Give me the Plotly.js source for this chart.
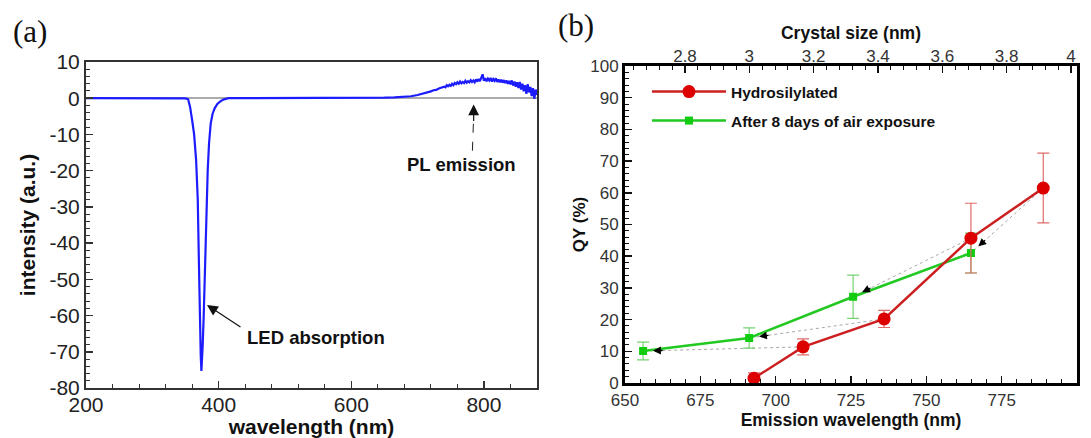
<!DOCTYPE html>
<html><head><meta charset="utf-8">
<script src="https://cdn.plot.ly/plotly-3.0.1.min.js"></script>
<style>html,body{margin:0;padding:0;background:#fff;} #chart{width:1091px;height:438px;}</style>
</head><body><div id="chart"></div>
<script>
// ---------- Panel (a) data: spectrum ----------
const wavelength = [
  200, 230, 260, 290, 320, 340, 350, 354, 357, 360,
  363, 366, 368.5, 370, 371.5, 373, 374, 375, 376, 377.5,
  379, 380.5, 382, 383.5, 385.5, 388, 391, 394, 398, 403,
  408, 415, 440, 480, 520, 560, 600, 630, 650, 665,
  680, 690, 700, 705, 710, 715, 720, 724, 728, 732,
  736, 740, 742, 744, 746, 748, 750, 752, 754, 756,
  758, 760, 762, 764, 766, 768, 770, 772, 774, 776,
  778, 780, 782, 784, 786, 788, 790, 792, 794, 796,
  798, 800, 802, 804, 806, 808, 810, 812, 814, 816,
  818, 820, 822, 824, 826, 828, 830, 832, 834, 836,
  838, 840, 842, 844, 846, 848, 850, 852, 854, 856,
  858, 860, 862, 864, 866, 868, 870, 872, 874, 876,
  878, 880
];
const intensity = [
  0, 0, 0, 0, 0, 0, -0.05, -0.3, -2.5, -6,
  -10, -17, -28, -43, -60, -71, -75.3, -72, -68, -60,
  -49, -38, -28, -20, -12.5, -7, -4.2, -2.8, -1.6, -0.8,
  -0.3, 0, 0, 0, 0, 0.02, 0.05, 0.1, 0.15, 0.25,
  0.4, 0.55, 0.9, 1.1, 1.4, 1.6, 1.9, 2.2, 2.3, 2.7,
  2.9, 3.2, 3.0, 3.6, 3.3, 3.7, 3.4, 4.0, 3.6, 4.2,
  3.9, 4.4, 4.0, 4.6, 4.1, 4.5, 4.2, 4.8, 4.3, 4.7,
  4.4, 5.0, 4.5, 4.9, 4.4, 5.2, 4.6, 5.3, 4.7, 5.6,
  6.6, 4.8, 5.5, 4.7, 5.4, 4.9, 5.6, 4.6, 5.3, 4.8,
  5.5, 4.5, 5.2, 4.4, 5.1, 4.3, 5.0, 4.2, 4.9, 4.0,
  4.8, 3.8, 4.9, 3.5, 4.6, 3.2, 4.4, 2.8, 4.5, 2.4,
  4.0, 1.9, 3.6, 1.2, 3.9, 1.6, 3.1, 0.6, 2.8, -0.2,
  2.4, 0.9
];
const aYTickVals = [-80, -70, -60, -50, -40, -30, -20, -10, 0, 10];
const aYTickText = ['-80', '-70', '-60', '-50', '-40', '-30', '-20', '-10', '0', '10'];

// ---------- Panel (b) data ----------
const seriesNames = ['Hydrosilylated', 'After 8 days of air exposure'];
const emissionHydro = [692.8, 709.1, 736.0, 764.8, 788.8];
const qyHydro       = [1.5, 11.4, 20.2, 45.7, 61.5];
const errHydro      = [1.7, 2.5, 2.7, 11.0, 11.0];
const emissionAir   = [656.0, 691.2, 725.7, 764.8];
const qyAir         = [10.1, 14.2, 27.2, 41.0];
const errAir        = [2.8, 3.2, 6.8, 6.3];
const crystalRange  = [2.6135, 4.0187];

// ---------- geometry ----------
const W = 1091, H = 438;
const A = {l: 86, r: 537, t: 62, b: 388};
const B = {l: 625, r: 1077, t: 66, b: 383};
const FONT = 'Liberation Sans, Arial, sans-serif';
const SERIF = 'Liberation Serif, Times New Roman, serif';

const traces = [
  {x: wavelength, y: intensity, xaxis: 'x', yaxis: 'y', mode: 'lines',
   line: {color: '#1c1cff', width: 2.2}, showlegend: false, hoverinfo: 'skip'},
  {x: emissionAir, y: qyAir, xaxis: 'x2', yaxis: 'y2', mode: 'lines+markers',
   name: '<b>' + seriesNames[1] + '</b>', legend: 'legend2',
   line: {color: '#22c922', width: 2.5},
   marker: {symbol: 'square', size: 8, color: '#12cc12'},
   error_y: {type: 'data', array: errAir, visible: true, color: '#74d474', thickness: 1.2, width: 6}},
  {x: emissionHydro, y: qyHydro, xaxis: 'x2', yaxis: 'y2', mode: 'lines+markers',
   name: '<b>' + seriesNames[0] + '</b>', legend: 'legend',
   line: {color: '#cc1f1f', width: 2.5},
   marker: {symbol: 'circle', size: 13, color: '#dd0000'},
   error_y: {type: 'data', array: errHydro, visible: true, color: '#e06a6a', thickness: 1.2, width: 6}},
  {x: crystalRange, y: [null, null], xaxis: 'x3', yaxis: 'y2', mode: 'markers',
   showlegend: false, hoverinfo: 'skip', marker: {opacity: 0}}
];

const tickA = {ticks: 'inside', ticklen: 7, tickwidth: 1.5, tickcolor: '#333',
  showline: true, linecolor: '#333', linewidth: 2, mirror: true, showgrid: false,
  tickfont: {family: FONT, size: 21, color: '#222'}};
const tickB = {ticks: 'inside', ticklen: 7, tickwidth: 1.5, tickcolor: '#111',
  showline: true, linecolor: '#000', linewidth: 3, mirror: true, showgrid: false, zeroline: false,
  tickfont: {family: FONT, size: 17, color: '#333'}};

function label(xpx, ypx, text, font) {
  return {xref: 'paper', yref: 'paper', x: xpx / W, y: 1 - ypx / H, text: text,
    showarrow: false, xanchor: 'center', yanchor: 'middle', font: font};
}

const annotations = [
  label(30, 31, '(a)', {family: SERIF, size: 31, color: '#111'}),
  label(576, 26, '(b)', {family: SERIF, size: 31, color: '#111'}),
  label(315.5, 337, '<b>LED absorption</b>', {family: FONT, size: 18.5, color: '#111'}),
  label(461, 165, '<b>PL emission</b>', {family: FONT, size: 18.5, color: '#111'}),
  // LED arrow
  {xref: 'x', yref: 'y', axref: 'x', ayref: 'y', x: 382.4, y: -57.1, ax: 435.2, ay: -63.4,
   text: '', showarrow: true, arrowhead: 2, arrowsize: 1.8, arrowwidth: 1.2, arrowcolor: '#111'},
  // PL arrow head
  {xref: 'x', yref: 'y', x: 784.5, y: -1.7, ax: 0, ay: 18,
   text: '', showarrow: true, arrowhead: 2, arrowsize: 1.8, arrowwidth: 1.2, arrowcolor: '#111'}
];

const shapes = [
  {type: 'line', xref: 'x', yref: 'y', x0: 782.6, y0: -14.5, x1: 784.2, y1: -6.5,
   line: {color: '#222', width: 1, dash: 'dash'}}
];

// connector arrows (b): from each hydrosilylated point to its aged counterpart
const pxPerNm = (B.r - B.l) / 150, pxPerQY = (B.b - B.t) / 100;
for (let i = 1; i < emissionHydro.length; i++) {
  const g = i - 1;
  shapes.push({type: 'line', xref: 'x2', yref: 'y2', layer: 'below',
    x0: emissionHydro[i], y0: qyHydro[i], x1: emissionAir[g], y1: qyAir[g],
    line: {color: '#a8a8a8', width: 1, dash: 'dot'}});
  const dx = (emissionHydro[i] - emissionAir[g]) * pxPerNm;
  const dy = -(qyHydro[i] - qyAir[g]) * pxPerQY;
  const n = Math.hypot(dx, dy);
  annotations.push({xref: 'x2', yref: 'y2', x: emissionAir[g], y: qyAir[g],
    ax: dx / n * 21, ay: dy / n * 21, standoff: 10, text: '', showarrow: true,
    arrowhead: 2, arrowsize: 1.2, arrowwidth: 1.3, arrowcolor: '#000'});
}

const layout = {
  width: W, height: H, margin: {l: 0, r: 0, t: 0, b: 0},
  paper_bgcolor: '#fff', plot_bgcolor: 'rgba(0,0,0,0)',
  font: {family: FONT, color: '#111'},
  xaxis: Object.assign({}, tickA, {domain: [A.l / W, A.r / W], anchor: 'y', range: [200, 880],
    tick0: 200, dtick: 200, zeroline: false, ticklabelstandoff: -3,
    minor: {dtick: 40, tick0: 200, ticks: 'inside', ticklen: 4, tickcolor: '#333', tickwidth: 1},
    title: {text: '<b>wavelength (nm)</b>', font: {family: FONT, size: 21, color: '#111'}, standoff: 0}}),
  yaxis: Object.assign({}, tickA, {domain: [1 - A.b / H, 1 - A.t / H], anchor: 'x', range: [-80, 10],
    tickmode: 'array', tickvals: aYTickVals, ticktext: aYTickText,
    minor: {tickmode: 'linear', tick0: -80, dtick: 2, ticks: 'inside', ticklen: 4, tickcolor: '#333', tickwidth: 1},
    zeroline: true, zerolinecolor: '#acacac', zerolinewidth: 1.5,
    title: {text: '<b>intensity (a.u.)</b>', font: {family: FONT, size: 21, color: '#111'}, standoff: 8}}),
  xaxis2: Object.assign({}, tickB, {domain: [B.l / W, B.r / W], anchor: 'y2', range: [650, 800],
    tick0: 650, dtick: 25,
    minor: {dtick: 5, tick0: 650, ticks: 'inside', ticklen: 4, tickcolor: '#111', tickwidth: 1},
    title: {text: '<b>Emission wavelength (nm)</b>', font: {family: FONT, size: 17.5, color: '#111'}, standoff: 4}}),
  xaxis3: {overlaying: 'x2', side: 'top', anchor: 'y2', range: crystalRange,
    tick0: 2.8, dtick: 0.2, ticks: 'inside', ticklen: 7, tickwidth: 1.5, tickcolor: '#111',
    minor: {dtick: 0.04, tick0: 2.8, ticks: 'inside', ticklen: 4, tickcolor: '#111', tickwidth: 1},
    showline: false, showgrid: false, zeroline: false,
    tickfont: {family: FONT, size: 17, color: '#333'},
    title: {text: '<b>Crystal size (nm)</b>', font: {family: FONT, size: 17.5, color: '#111'}, standoff: 2}},
  yaxis2: Object.assign({}, tickB, {domain: [1 - B.b / H, 1 - B.t / H], anchor: 'x2', range: [0, 100],
    tick0: 0, dtick: 10,
    minor: {dtick: 2, tick0: 0, ticks: 'inside', ticklen: 4, tickcolor: '#111', tickwidth: 1},
    title: {text: '<b>QY (%)</b>', font: {family: FONT, size: 17, color: '#111'}, standoff: 1}}),
  legend: {x: 647 / W, y: 1 - 92 / H, xanchor: 'left', yanchor: 'middle', bgcolor: 'rgba(0,0,0,0)',
    itemwidth: 74, font: {family: FONT, size: 15.5, color: '#111'}},
  legend2: {x: 647 / W, y: 1 - 121 / H, xanchor: 'left', yanchor: 'middle', bgcolor: 'rgba(0,0,0,0)',
    itemwidth: 74, font: {family: FONT, size: 15.5, color: '#111'}},
  annotations: annotations,
  shapes: shapes
};

Plotly.newPlot('chart', traces, layout, {displayModeBar: false, staticPlot: true});
</script>
</body></html>
